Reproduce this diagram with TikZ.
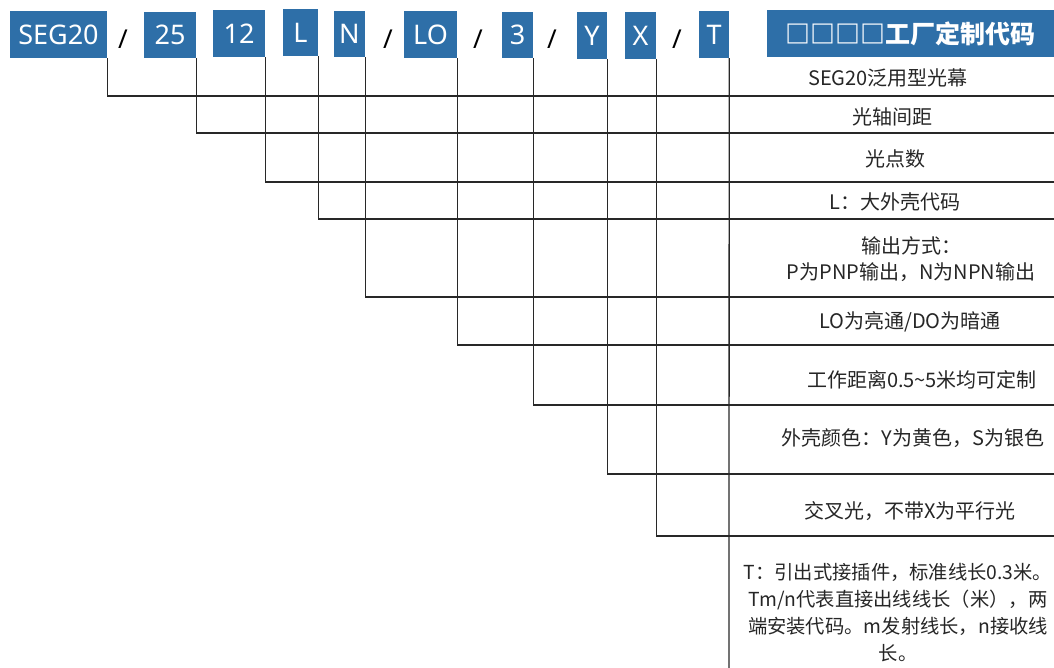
\documentclass[tikz,border=0pt]{standalone}
\usepackage{fontspec}
\setmainfont{Noto Sans CJK SC}
\newfontfamily\boxfont{Noto Sans}
\definecolor{codeblue}{RGB}{46,111,168}
\definecolor{linegray}{RGB}{40,40,40}
\begin{document}
\begin{tikzpicture}[x=1pt,y=-1pt,
  codebox/.style={fill=codeblue, text=white, inner sep=0pt, font=\boxfont\fontsize{27}{30}\selectfont},
  slashmark/.style={inner sep=0pt, font=\boxfont\bfseries\fontsize{26}{28}\selectfont, text=black},
  conn/.style={draw=linegray, line width=1.3pt},
  rowtext/.style={inner sep=0pt, font=\fontsize{20}{26}\selectfont, text=black!85, align=center},
]
\useasboundingbox (0,0) rectangle (1054,668);

% code boxes
\node[codebox, minimum width=97pt, minimum height=47pt] (seg) at (58.5,34.5) {SEG20};
\node[codebox, minimum width=52pt, minimum height=46pt] (b25) at (170,35) {25};
\node[codebox, minimum width=52pt, minimum height=47pt] (b12) at (239,33.5) {12};
\node[codebox, minimum width=35pt, minimum height=47pt] (bL) at (300.5,32.5) {L};
\node[codebox, minimum width=31pt, minimum height=46pt] (bN) at (349.5,34) {N};
\node[codebox, minimum width=53pt, minimum height=47pt] (bLO) at (430.5,34.5) {LO};
\node[codebox, minimum width=31pt, minimum height=46pt] (b3) at (517.5,35) {3};
\node[codebox, minimum width=30pt, minimum height=47pt] (bY) at (592,35.5) {Y};
\node[codebox, minimum width=31pt, minimum height=47pt] (bX) at (640.5,35.5) {X};
\node[codebox, minimum width=30pt, minimum height=47pt] (bT) at (714,34.5) {T};

% slashes
\node[slashmark] (s1) at (123,39) {/};
\node[slashmark] (s2) at (388,39) {/};
\node[slashmark] (s3) at (478,39) {/};
\node[slashmark] (s4) at (552,39) {/};
\node[slashmark] (s5) at (677,39) {/};

% header
\node[fill=codeblue, text=white, inner sep=0pt, minimum width=287pt, minimum height=47pt,
  font=\bfseries\fontsize{25}{28}\selectfont] (hdr) at (910.5,33.5) {□□□□工厂定制代码};

% line end coordinates on the right edge
\coordinate (eSEG) at (1054,96);
\coordinate (e25) at (1054,133);
\coordinate (e12) at (1054,182);
\coordinate (eL) at (1054,219);
\coordinate (eN) at (1054,297);
\coordinate (eLO) at (1054,345);
\coordinate (e3) at (1054,405);
\coordinate (eY) at (1054,474);
\coordinate (eX) at (1054,536);
\coordinate (eT) at (729,668);

% connectors
\draw[conn] (seg.south east) |- (eSEG);
\draw[conn] (b25.south east) |- (e25);
\draw[conn] (b12.south east) |- (e12);
\draw[conn] (bL.south east) |- (eL);
\draw[conn] (bN.south east) |- (eN);
\draw[conn] (bLO.south east) |- (eLO);
\draw[conn] (b3.south east) |- (e3);
\draw[conn] (bY.south east) |- (eY);
\draw[conn] (bX.south east) |- (eX);
\draw[conn] (bT.south east) -- (eT);

% row texts
\node[rowtext] (r1) at (888,78) {SEG20泛用型光幕};
\node[rowtext] (r2) at (892,117) {光轴间距};
\node[rowtext] (r3) at (895,159) {光点数};
\node[rowtext] (r4) at (895,202) {L：大外壳代码};
\node[rowtext] (r5) at (911,259) {输出方式：\\P为PNP输出，N为NPN输出};
\node[rowtext] (r6) at (910,322) {LO为亮通/DO为暗通};
\node[rowtext] (r7) at (922,380) {工作距离0.5\textasciitilde5米均可定制};
\node[rowtext] (r8) at (913,438) {外壳颜色：Y为黄色，S为银色};
\node[rowtext] (r9) at (910,511) {交叉光，不带X为平行光};
\node[rowtext, font=\fontsize{19.3}{27}\selectfont] (r10) at (898,612.5) {T：引出式接插件，标准线长0.3米。\\Tm/n代表直接出线线长（米），两\\端安装代码。m发射线长，n接收线\\长。};
\end{tikzpicture}
\end{document}
